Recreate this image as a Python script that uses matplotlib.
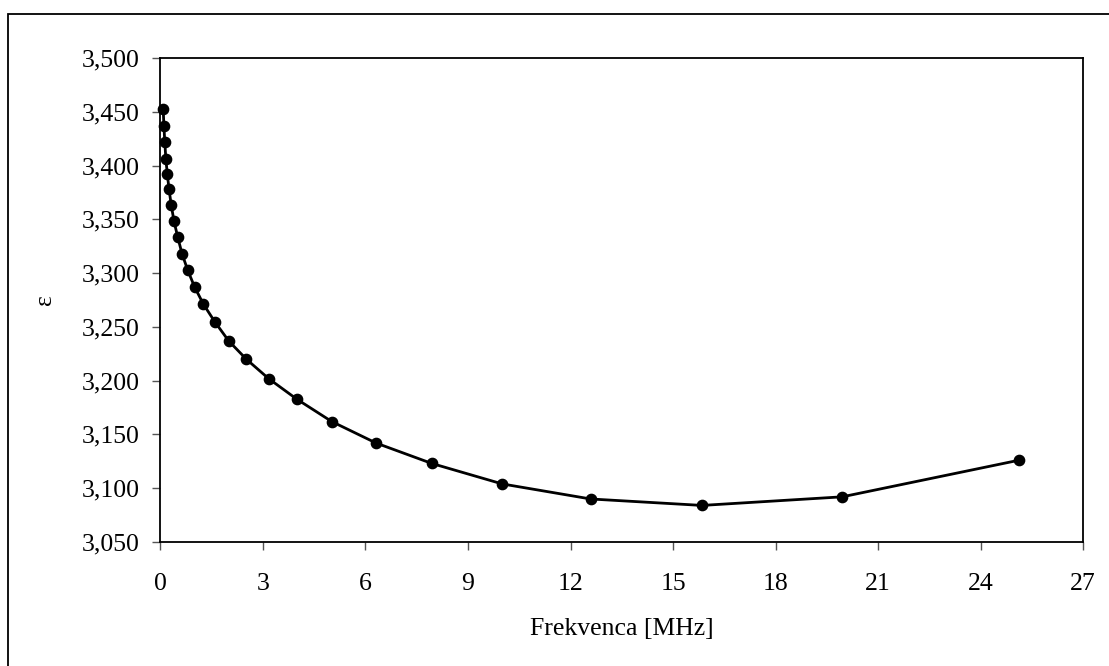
import matplotlib
matplotlib.use("Agg")
import matplotlib.pyplot as plt
from matplotlib.patches import Rectangle
from matplotlib.ticker import FuncFormatter, MultipleLocator

# Frequency sweep (MHz) and measured permittivity
freq_mhz = [0.0794, 0.1, 0.126, 0.158, 0.2, 0.251, 0.316, 0.398, 0.501,
            0.631, 0.794, 1.0, 1.259, 1.585, 1.995, 2.512, 3.162, 3.981,
            5.012, 6.310, 7.943, 10.0, 12.589, 15.849, 19.953, 25.119]
epsilon = [3.453, 3.437, 3.422, 3.406, 3.392, 3.378, 3.363, 3.348, 3.334,
           3.318, 3.303, 3.287, 3.271, 3.255, 3.237, 3.220, 3.202, 3.183,
           3.162, 3.142, 3.123, 3.104, 3.090, 3.084, 3.092, 3.126]

plt.rcParams["font.family"] = ["Liberation Serif", "DejaVu Serif"]

fig = plt.figure(figsize=(11.09, 6.66), dpi=100)
ax = fig.add_axes([0.1447, 0.1862, 0.8319, 0.7267])

ax.plot(freq_mhz, epsilon, color="black", linewidth=2.0,
        marker="o", markersize=7.4, markerfacecolor="black",
        markeredgecolor="black", clip_on=False)

ax.set_xlim(0, 27)
ax.set_ylim(3.05, 3.5)
ax.xaxis.set_major_locator(MultipleLocator(3))
ax.yaxis.set_major_locator(MultipleLocator(0.05))
ax.yaxis.set_major_formatter(
    FuncFormatter(lambda v, _: f"{v:.3f}".replace(".", ",")))

ax.tick_params(direction="out", length=6, width=1.0, color="#555555",
               labelsize=18.5, labelcolor="black")
ax.tick_params(axis="y", pad=9)
ax.tick_params(axis="x", pad=16)
for spine in ax.spines.values():
    spine.set_linewidth(1.3)
    spine.set_color("black")

ax.set_xlabel("Frekvenca [MHz]", fontsize=18.5, labelpad=17)
fig.text(45 / 1109, 1 - 300 / 666, "ε", rotation=90, fontsize=18.5,
         ha="center", va="center")

# Outer chart frame
fig.patches.append(Rectangle((8 / 1109, 0 - 0.01), 1.05, 1 - 14 / 666 + 0.01,
                             transform=fig.transFigure, fill=False,
                             edgecolor="black", linewidth=1.3))

fig.savefig("out.png", dpi=100)
